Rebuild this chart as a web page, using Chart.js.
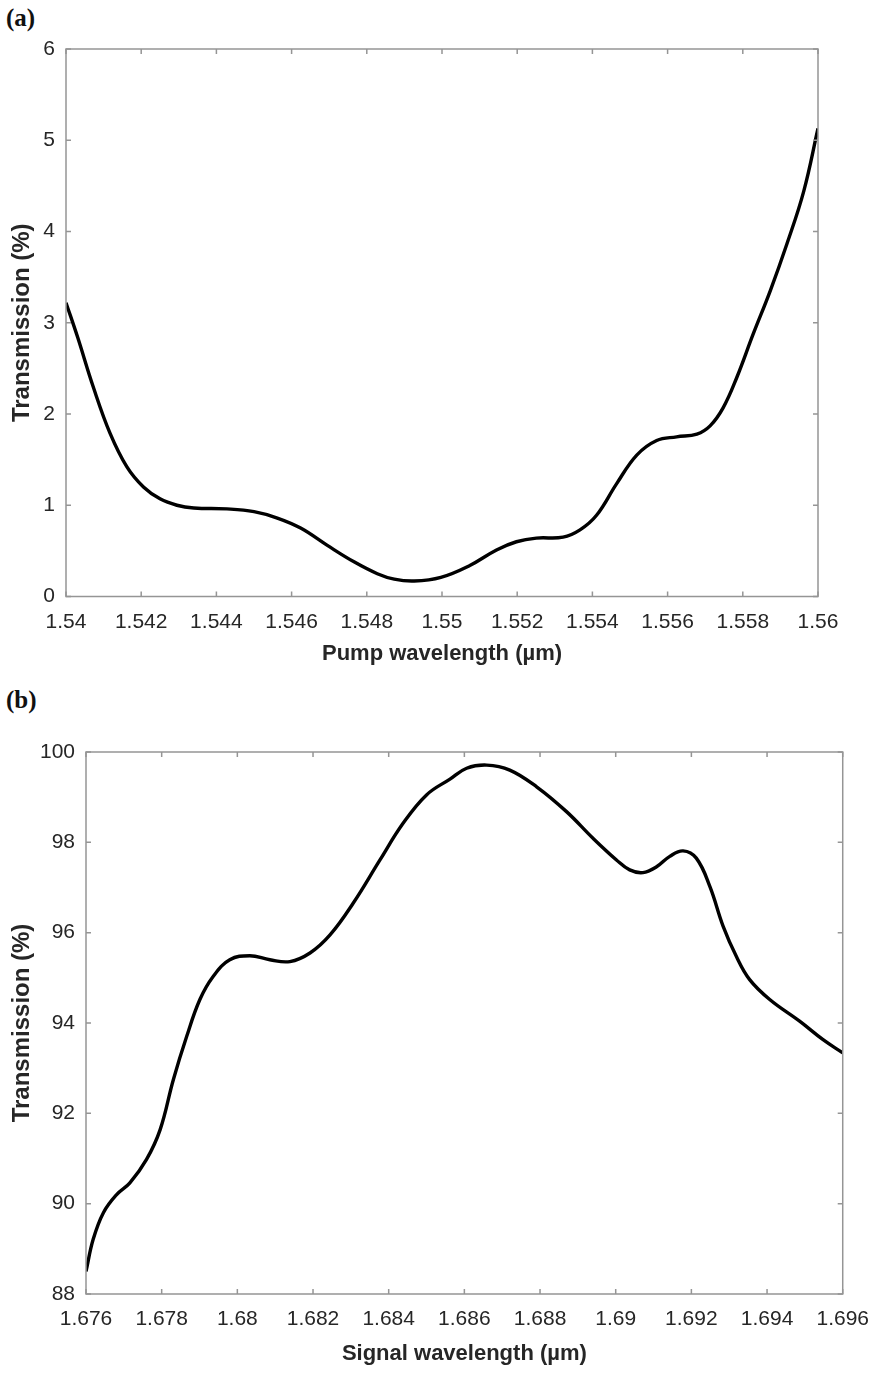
<!DOCTYPE html>
<html>
<head>
<meta charset="utf-8">
<script src="https://cdn.jsdelivr.net/npm/chart.js@4.4.0/dist/chart.umd.min.js"></script>
<style>
    html, body { margin: 0; padding: 0; background: #fff; }
    body { width: 875px; height: 1373px; position: relative; overflow: hidden; }
    .panel { position: absolute; left: 0; }
    .tag { position: absolute; left: 6px; font: bold 25px "Liberation Serif", "DejaVu Serif", serif; color: #111; }
</style>
</head>
<body>
<div class="tag" style="top: 4px;">(a)</div>
<div class="panel" style="top: 0; width: 875px; height: 680px;"><canvas id="pumpChart"></canvas></div>
<div class="tag" style="top: 686px;">(b)</div>
<div class="panel" style="top: 680px; width: 882px; height: 693px;"><canvas id="signalChart"></canvas></div>

<script>
// (a) pump
const pumpWl = [1.5400, 1.54031, 1.54073, 1.54117, 1.54162, 1.54206, 1.5425, 1.54295, 1.5434, 1.54428,
    1.5450, 1.54562, 1.54624, 1.54695, 1.54766, 1.54828, 1.54873, 1.54926, 1.54997, 1.55074,
    1.55145, 1.55198, 1.55251, 1.55322, 1.55367, 1.55411, 1.55465, 1.55518, 1.55571, 1.55624,
    1.55678, 1.55713, 1.55748, 1.55784, 1.55828, 1.55873, 1.55917, 1.55962, 1.5600];
const pumpTrans = [3.22, 2.84, 2.29, 1.79, 1.42, 1.20, 1.07, 1.00, 0.97, 0.96,
    0.93, 0.86, 0.75, 0.56, 0.38, 0.25, 0.19, 0.17, 0.21, 0.34,
    0.51, 0.60, 0.64, 0.65, 0.73, 0.89, 1.24, 1.55, 1.71, 1.75,
    1.78, 1.87, 2.07, 2.40, 2.88, 3.35, 3.86, 4.44, 5.13];
const pumpXTicks = [1.54, 1.542, 1.544, 1.546, 1.548, 1.55, 1.552, 1.554, 1.556, 1.558, 1.56];
const pumpYTicks = [0, 1, 2, 3, 4, 5, 6];

// (b) signal
const signalWl = [1.6760, 1.67619, 1.67646, 1.67681, 1.67716, 1.67760, 1.67796, 1.67831, 1.67866, 1.67901,
    1.67936, 1.67980, 1.68033, 1.68086, 1.68139, 1.68192, 1.68245, 1.68306, 1.68377, 1.68438,
    1.68500, 1.68562, 1.68606, 1.68659, 1.68720, 1.68791, 1.68870, 1.68940, 1.69002, 1.69037,
    1.69072, 1.69108, 1.69143, 1.69178, 1.69213, 1.69249, 1.69284, 1.69319, 1.69354, 1.69407,
    1.69486, 1.69548, 1.6960];
const signalTrans = [88.50, 89.21, 89.80, 90.20, 90.46, 90.98, 91.64, 92.75, 93.70, 94.52,
    95.03, 95.40, 95.49, 95.40, 95.36, 95.55, 95.95, 96.65, 97.61, 98.42,
    99.05, 99.40, 99.64, 99.71, 99.60, 99.23, 98.68, 98.09, 97.61, 97.39,
    97.33, 97.46, 97.69, 97.81, 97.65, 97.02, 96.14, 95.47, 94.96, 94.52,
    94.04, 93.63, 93.34];
const signalXTicks = [1.676, 1.678, 1.68, 1.682, 1.684, 1.686, 1.688, 1.69, 1.692, 1.694, 1.696];
const signalYTicks = [88, 90, 92, 94, 96, 98, 100];

const axisColor = '#959595';
const textColor = '#262626';
const tickFont = { family: 'Arial, "Liberation Sans", sans-serif', size: 21 };
const xTitleFont = { family: 'Arial, "Liberation Sans", sans-serif', size: 22, weight: 'bold' };
const yTitleFont = { family: 'Arial, "Liberation Sans", sans-serif', size: 24, weight: 'bold' };

// MATLAB style box with inward ticks on all four sides
const boxTicks = {
    id: 'boxTicks',
    afterDatasetsDraw(chart) {
        const { ctx, chartArea: a, scales: { x, y } } = chart;
        const len = 5;
        ctx.save();
        ctx.strokeStyle = axisColor;
        ctx.lineWidth = 1.5;
        ctx.strokeRect(a.left, a.top, a.right - a.left, a.bottom - a.top);
        ctx.beginPath();
        x.ticks.forEach(t => {
            const px = x.getPixelForValue(t.value);
            ctx.moveTo(px, a.bottom); ctx.lineTo(px, a.bottom - len);
            ctx.moveTo(px, a.top); ctx.lineTo(px, a.top + len);
        });
        y.ticks.forEach(t => {
            const py = y.getPixelForValue(t.value);
            ctx.moveTo(a.left, py); ctx.lineTo(a.left + len, py);
            ctx.moveTo(a.right, py); ctx.lineTo(a.right - len, py);
        });
        ctx.stroke();
        ctx.restore();
    }
};

function makeChart(el, xs, ys, xTicks, yTicks, xTitle, box) {
    return new Chart(document.getElementById(el), {
        type: 'line',
        data: {
            datasets: [{
                data: xs.map((v, i) => ({ x: v, y: ys[i] })),
                borderColor: '#000',
                borderWidth: 3.4,
                pointRadius: 0,
                tension: 0.4,
                fill: false
            }]
        },
        options: {
            responsive: true,
            maintainAspectRatio: false,
            animation: false,
            events: [],
            layout: { padding: { top: box.top, right: box.right, left: 0, bottom: box.bottom } },
            plugins: { legend: { display: false }, tooltip: { enabled: false } },
            scales: {
                x: {
                    type: 'linear',
                    min: xTicks[0],
                    max: xTicks[xTicks.length - 1],
                    afterBuildTicks: s => { s.ticks = xTicks.map(v => ({ value: v })); },
                    afterFit: s => { s.height = box.xh; },
                    grid: { display: false, drawTicks: false },
                    border: { display: false },
                    ticks: { color: textColor, font: tickFont, padding: 13, maxRotation: 0, autoSkip: false, callback: v => String(v) },
                    title: { display: true, text: xTitle, color: textColor, font: xTitleFont, padding: 0 }
                },
                y: {
                    min: yTicks[0],
                    max: yTicks[yTicks.length - 1],
                    afterBuildTicks: s => { s.ticks = yTicks.map(v => ({ value: v })); },
                    afterFit: s => { s.width = box.yw; },
                    grid: { display: false, drawTicks: false },
                    border: { display: false },
                    ticks: { color: textColor, font: tickFont, padding: 11, callback: v => String(v) },
                    title: { display: true, text: 'Transmission (%)', color: textColor, font: yTitleFont, padding: { top: 8, bottom: 0 } }
                }
            }
        },
        plugins: [boxTicks]
    });
}

makeChart('pumpChart', pumpWl, pumpTrans, pumpXTicks, pumpYTicks, 'Pump wavelength (\u00b5m)',
    { top: 49, right: 57, bottom: 12.5, yw: 66, xh: 71 });
makeChart('signalChart', signalWl, signalTrans, signalXTicks, signalYTicks, 'Signal wavelength (\u00b5m)',
    { top: 72, right: 32, bottom: 6, yw: 86, xh: 73 });
</script>
</body>
</html>
